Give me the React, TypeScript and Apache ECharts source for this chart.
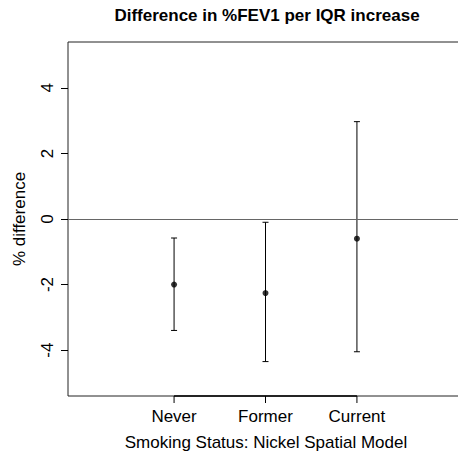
import React, { useEffect, useRef } from "react";
import * as echarts from "echarts";

const categories = ["Never", "Former", "Current"];
const categoryX = [1, 2, 3];
const estimates = [-2.0, -2.26, -0.6];
const lowerCI = [-3.4, -4.35, -4.05];
const upperCI = [-0.58, -0.1, 2.97];
const yTicks = [-4, -2, 0, 2, 4];

const FONT = "'Liberation Sans', Arial, Helvetica, sans-serif";

export default function App() {
  const ref = useRef<HTMLDivElement>(null);
  useEffect(() => {
    document.body.style.margin = "0";
    const chart = echarts.init(ref.current!, null, { renderer: "svg" });
    const yMin = -5.4;
    const yMax = 5.4;
    chart.setOption({
      animation: false,
      backgroundColor: "#ffffff",
      title: {
        text: "Difference in %FEV1 per IQR increase",
        left: 262,
        textAlign: "center",
        top: 2,
        textStyle: { fontFamily: FONT, fontSize: 17, fontWeight: "bold", color: "#000" },
      },
      grid: {
        left: 68,
        top: 42,
        width: 395,
        height: 354,
        show: true,
        borderColor: "#222",
        borderWidth: 1,
        backgroundColor: "transparent",
        containLabel: false,
        outerBoundsMode: "none",
      },
      xAxis: {
        type: "value",
        min: -0.16,
        max: 4.16,
        show: false,
        axisLine: { onZero: false },
      },
      yAxis: {
        type: "value",
        min: yMin,
        max: yMax,
        position: "left",
        axisLine: { show: false, onZero: false },
        splitLine: { show: false },
        axisTick: {
          show: true,
          length: 7,
          inside: false,
          customValues: yTicks,
          lineStyle: { color: "#000", width: 1 },
        },
        axisLabel: {
          customValues: yTicks,
          rotate: 90,
          margin: 12,
          fontFamily: FONT,
          fontSize: 17,
          color: "#000",
        },
        name: "% difference",
        nameLocation: "middle",
        nameRotate: 90,
        nameGap: 40,
        nameTextStyle: { fontFamily: FONT, fontSize: 17, color: "#000" },
      },
      graphic: [
        {
          type: "text",
          x: 266,
          y: 442,
          style: {
            text: "Smoking Status: Nickel Spatial Model",
            fontFamily: FONT,
            fontSize: 17,
            fill: "#000",
            align: "center",
            verticalAlign: "middle",
          },
        },
      ],
      series: [
        {
          type: "line",
          data: [],
          markLine: {
            silent: true,
            symbol: "none",
            label: { show: false },
            lineStyle: { color: "#666", width: 1.2, type: "solid" },
            data: [{ yAxis: 0 }],
          },
        },
        {
          type: "custom",
          clip: false,
          data: categoryX.map((x, i) => [x, lowerCI[i], upperCI[i]]),
          renderItem: (params: any, api: any) => {
            const x = api.value(0);
            const lo = api.coord([x, api.value(1)]);
            const hi = api.coord([x, api.value(2)]);
            const cap = 3;
            const ls = { stroke: "#000", lineWidth: 1 };
            return {
              type: "group",
              children: [
                { type: "line", shape: { x1: lo[0], y1: lo[1], x2: hi[0], y2: hi[1] }, style: ls },
                { type: "line", shape: { x1: lo[0] - cap, y1: lo[1], x2: lo[0] + cap, y2: lo[1] }, style: ls },
                { type: "line", shape: { x1: hi[0] - cap, y1: hi[1], x2: hi[0] + cap, y2: hi[1] }, style: ls },
              ],
            };
          },
        },
        {
          type: "scatter",
          symbol: "circle",
          symbolSize: 6,
          itemStyle: { color: "#000" },
          data: categoryX.map((x, i) => [x, estimates[i]]),
        },
        {
          type: "custom",
          clip: false,
          data: categoryX.map((x, i) => [x, i]),
          renderItem: (params: any, api: any) => {
            const x = api.value(0);
            const i = api.value(1);
            const p = api.coord([x, yMin]);
            const children: any[] = [
              { type: "line", shape: { x1: p[0], y1: p[1], x2: p[0], y2: p[1] + 7 }, style: { stroke: "#000", lineWidth: 1 } },
              {
                type: "text",
                x: p[0],
                y: p[1] + 20,
                style: {
                  text: categories[i],
                  fontFamily: FONT,
                  fontSize: 17,
                  fill: "#000",
                  align: "center",
                  verticalAlign: "middle",
                },
              },
            ];
            if (i === 0) {
              const end = api.coord([categoryX[categoryX.length - 1], yMin]);
              children.push({
                type: "line",
                shape: { x1: p[0], y1: p[1], x2: end[0], y2: end[1] },
                style: { stroke: "#000", lineWidth: 1.5 },
              });
            }
            return { type: "group", children };
          },
        },
      ],
    });
    return () => chart.dispose();
  }, []);
  return <div ref={ref} style={{ width: 458, height: 457 }} />;
}
